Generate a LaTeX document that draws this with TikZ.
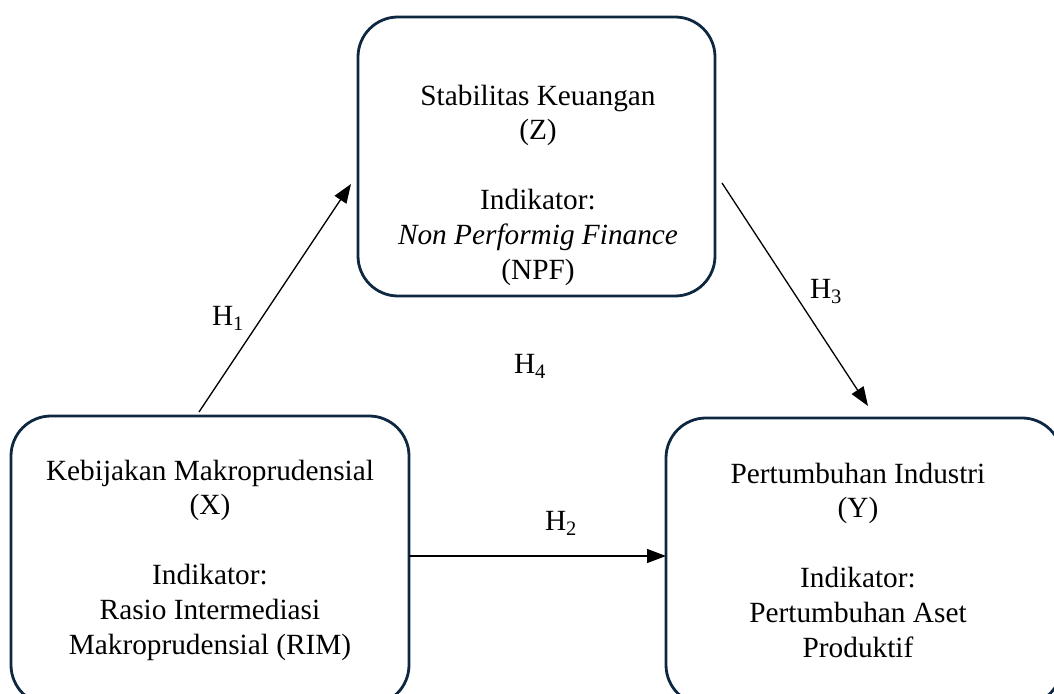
\documentclass[tikz,border=0pt]{standalone}
\usepackage{fontspec}
\setmainfont{Liberation Serif}
\usetikzlibrary{arrows.meta}
\definecolor{boxline}{HTML}{0E2841}
\tikzset{
  varbox/.style={draw=boxline, line width=2.8pt, rounded corners=40pt, inner sep=0pt},
  vartext/.style={align=center, font=\fontsize{29.3}{34.8}\selectfont, inner sep=0pt},
  hlabel/.style={font=\fontsize{29.3}{34.8}\selectfont, inner sep=0pt},
  arr/.style={line width=1.3pt, -{Triangle[length=19pt,width=14pt]}}
}
\begin{document}
\begin{tikzpicture}[x=1pt,y=1pt]
\useasboundingbox (0,0) rectangle (1054,693);
\clip (0,0) rectangle (1054,693);
\fill[white] (0,0) rectangle (1054,693);
% boxes
\node[varbox, minimum width=357pt, minimum height=279pt] (zbox) at (536.5,536.5) {};
\node[varbox, minimum width=398pt, minimum height=289pt] (xbox) at (210,132.5) {};
\node[varbox, minimum width=396pt, minimum height=287pt] (ybox) at (864,131.5) {};
% texts
\node[vartext] (ztext) at (538,508) {Stabilitas Keuangan\\(Z)\\[34.8pt]Indikator:\\\textit{Non Performig Finance}\\(NPF)};
\node[vartext] (xtext) at (210,133) {Kebijakan Makroprudensial\\(X)\\[34.8pt]Indikator:\\Rasio Intermediasi\\Makroprudensial (RIM)};
\node[vartext] (ytext) at (858,133) {Pertumbuhan Industri\\(Y)\\[34.8pt]Indikator:\\Pertumbuhan Aset\\Produktif};
% connector endpoints
\coordinate (h1s) at (199,281);
\coordinate (h1e) at (351,509);
\coordinate (h3s) at (722,510);
\coordinate (h3e) at (868,287);
\coordinate (h2s) at (409,137);
\coordinate (h2e) at (666,137);
\draw[arr] (h1s) -- (h1e);
\draw[arr] (h3s) -- (h3e);
\draw[arr] (h2s) -- (h2e);
% labels
\node[hlabel] (h1) at (228,375) {H\textsubscript{1}};
\node[hlabel] (h4) at (530,327) {H\textsubscript{4}};
\node[hlabel] (h3) at (826,401) {H\textsubscript{3}};
\node[hlabel] (h2) at (561,170) {H\textsubscript{2}};
\end{tikzpicture}
\end{document}
